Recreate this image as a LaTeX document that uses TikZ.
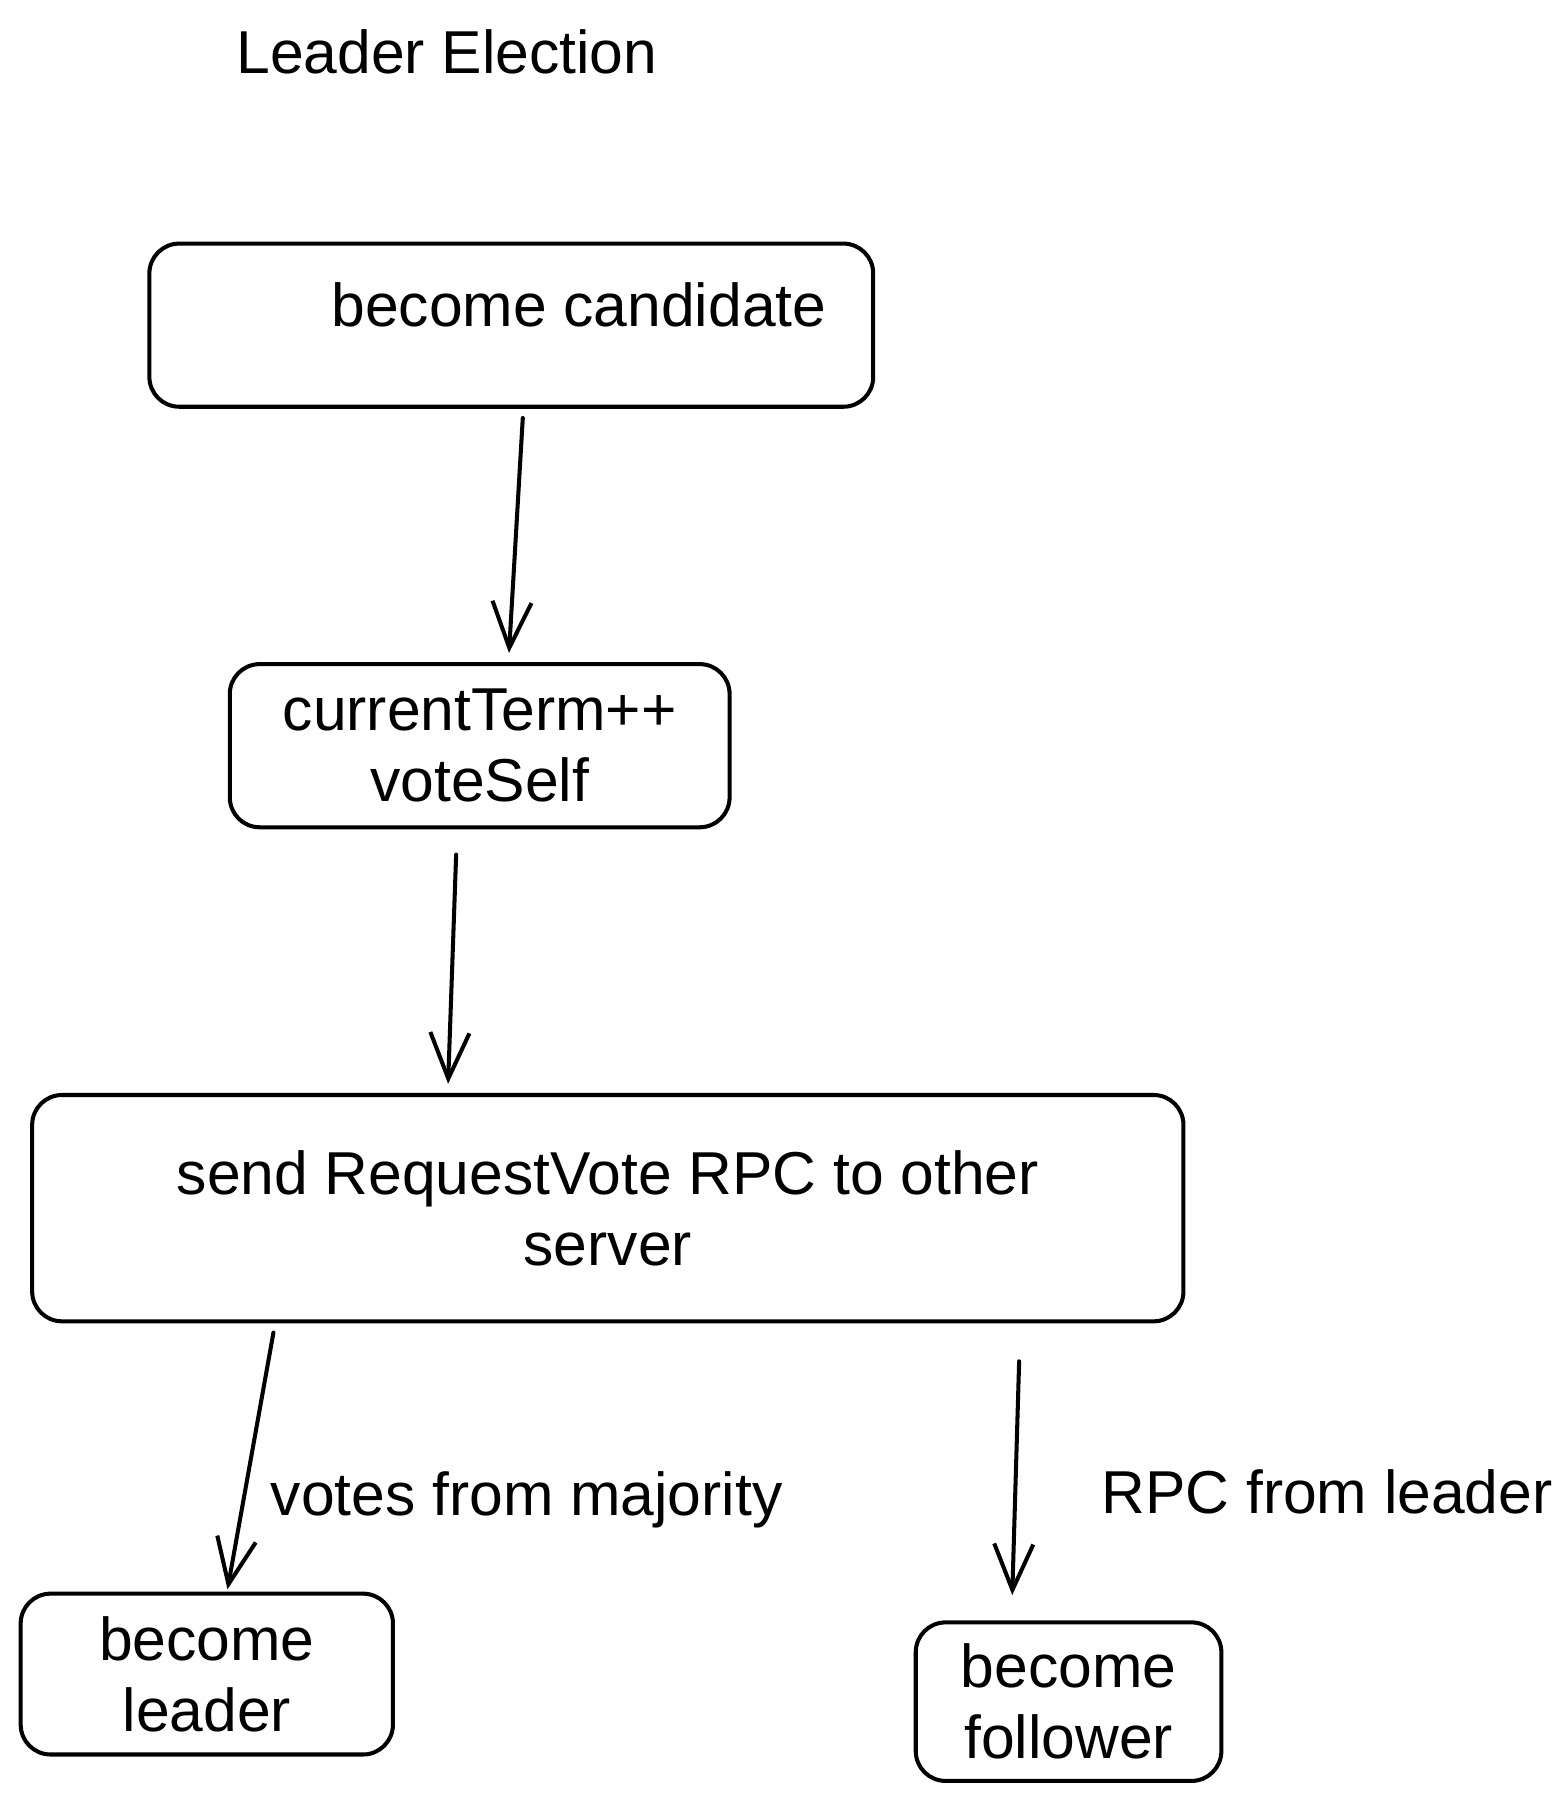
\documentclass[tikz,border=0pt]{standalone}
\usepackage{fontspec}
\setmainfont{Liberation Sans}
\usetikzlibrary{arrows.meta}
\begin{document}
\begin{tikzpicture}[>={Straight Barb[length=4mm,width=3.4mm]}, font=\fontsize{15}{17.5}\selectfont, line join=round, line cap=round,
	box/.style={draw, line width=1pt, rounded corners=2.6mm, inner sep=0pt},
	txt/.style={align=center, inner sep=0pt},
	arr/.style={->, line width=1pt}]
	%	\draw[color=gray!50,dashed] (0,-15.64) grid (13.6,0);
	\useasboundingbox (0,0) rectangle (13.6,-15.64);
	\node[txt, anchor=west] (title) at (2.05,-0.45) {Leader Election};
	\node[box, minimum width=6.3cm, minimum height=1.42cm] (cand) at (4.45,-2.83) {};
	\node[txt, anchor=east] (candtxt) at (7.2,-2.65) {become candidate};
	\node[box, minimum width=4.35cm, minimum height=1.42cm, txt] (term) at (4.175,-6.49) {currentTerm++\\voteSelf};
	\node[box, minimum width=10.02cm, minimum height=1.97cm, txt] (send) at (5.29,-10.515) {send RequestVote RPC to other\\server};
	\node[box, minimum width=3.24cm, minimum height=1.4cm, txt] (leader) at (1.8,-14.57) {become\\leader};
	\node[box, minimum width=2.66cm, minimum height=1.38cm, txt] (follower) at (9.3,-14.81) {become\\follower};
	\draw[arr] ([xshift=1mm,yshift=-0.8mm]cand.south) -- ([xshift=2.55mm,yshift=0.8mm]term.north);
	\draw[arr] ([xshift=-2.05mm,yshift=-2.2mm]term.south) -- ([xshift=-13.9mm,yshift=0.8mm]send.north);
	\draw[arr] ([xshift=-29.1mm,yshift=-0.8mm]send.south) -- ([xshift=1.8mm,yshift=0.2mm]leader.north);
	\draw[arr] ([xshift=35.8mm,yshift=-3.3mm]send.south) -- ([xshift=-4.9mm,yshift=2.2mm]follower.north);
	\node[txt, anchor=west] (votes) at (2.35,-13.05) {votes from majority};
	\node[txt, anchor=west] (rpc) at (9.58,-12.98) {RPC from leader};
\end{tikzpicture}
\end{document}
